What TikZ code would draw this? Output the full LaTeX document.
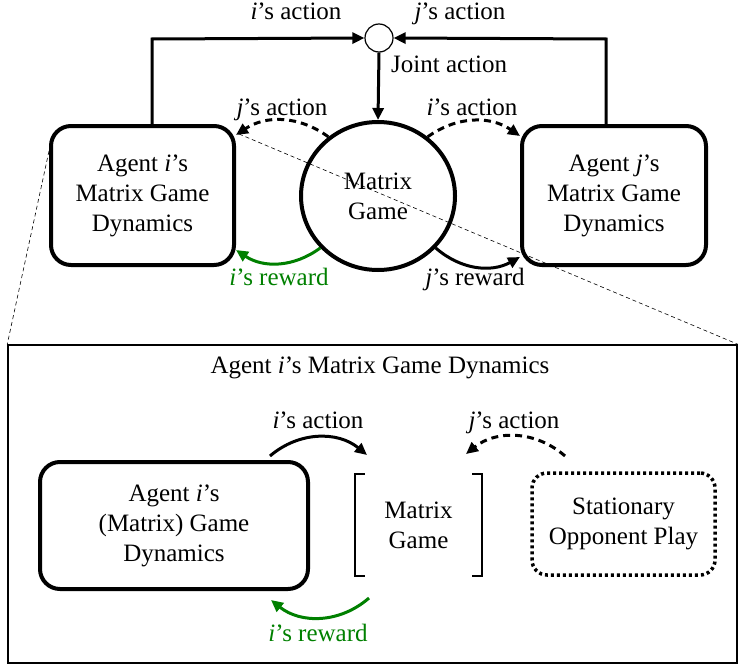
\documentclass[tikz,border=0pt]{standalone}
\usepackage{fontspec}
\setmainfont{Liberation Serif}
\usetikzlibrary{shapes.geometric,arrows.meta,calc}
\definecolor{rgreen}{RGB}{0,128,0}
\tikzset{
  agentbox/.style={draw,line width=4pt,rounded corners=20pt,align=center,inner sep=0pt},
  gamecirc/.style={draw,ellipse,line width=4pt,align=center,inner sep=0pt},
  joincirc/.style={draw,circle,line width=1.2pt,minimum size=28pt,inner sep=0pt},
  flow/.style={line width=3pt,-{Triangle[length=12pt,width=11pt]}},
  dflow/.style={flow,dash pattern=on 7pt off 5pt},
  zoomline/.style={line width=0.6pt,dash pattern=on 4pt off 3pt},
  lbl/.style={anchor=base,inner sep=0pt},
  dotbox/.style={draw,line width=3.5pt,rounded corners=15pt,dash pattern=on 3pt off 3pt,align=center,inner sep=0pt},
}
\begin{document}
\begin{tikzpicture}[x=1pt,y=-1pt,font=\fontsize{25}{30}\selectfont]
\useasboundingbox (0,0) rectangle (738,666);
% top diagram
\node[agentbox,minimum width=183pt,minimum height=139pt] (lb) at (142.5,195.5) {Agent \textit{i}’s\\Matrix Game\\Dynamics};
\node[agentbox,minimum width=184pt,minimum height=139pt] (rb) at (614,195.5) {Agent \textit{j}’s\\Matrix Game\\Dynamics};
\node[gamecirc,minimum width=154pt,minimum height=148pt] (mc) at (378,196) {Matrix\\Game};
\node[joincirc] (sc) at (379,38) {};
\coordinate (tl) at (152,39);
\coordinate (tr) at (606,39);
\draw[flow] (lb.north -| tl) -- (tl) -- (sc.west);
\draw[flow] (rb.north -| tr) -- (tr) -- (sc.east);
\draw[flow] (sc.south) -- (mc.north);
\draw[dflow] (mc.130) to[bend right=35] ([yshift=-11pt]lb.north east);
\draw[dflow] (mc.50) to[bend left=35] ([yshift=-12pt]rb.north west);
\draw[flow,rgreen] (mc.222) to[bend left=35] ([yshift=17pt]lb.south east);
\draw[flow] (mc.318) to[bend right=35] ([yshift=10pt]rb.south west);
\node[lbl] (l1) at (296,20) {\textit{i}’s action};
\node[lbl] (l2) at (460,20) {\textit{j}’s action};
\node[lbl,anchor=base west] (l3) at (391,73) {Joint action};
\node[lbl] (l4) at (282,115) {\textit{j}’s action};
\node[lbl] (l5) at (472,115) {\textit{i}’s action};
\node[lbl,text=rgreen] (l6) at (279,285) {\textit{i}’s reward};
\node[lbl] (l7) at (475,285) {\textit{j}’s reward};
% bottom panel
\node[draw,line width=1.5pt,minimum width=729pt,minimum height=318pt,inner sep=0pt] (bp) at (372.5,504) {};
\draw[zoomline] ([yshift=-27pt]lb.north west) -- (bp.north west);
\draw[zoomline] ([xshift=3pt,yshift=-10pt]lb.north east) -- (bp.north east);
\node[lbl] (title) at (380,373) {Agent \textit{i}’s Matrix Game Dynamics};
\node[agentbox,minimum width=268pt,minimum height=127pt] (lb2) at (174,525.5) {Agent \textit{i}’s\\(Matrix) Game\\Dynamics};
\node[align=center,minimum width=127pt,minimum height=102pt,inner sep=0pt] (mg2) at (418.5,525) {Matrix\\Game};
\draw[line width=2.5pt] ([xshift=10pt]mg2.north west) -- (mg2.north west) -- (mg2.south west) -- ([xshift=10pt]mg2.south west);
\draw[line width=2.5pt] ([xshift=-10pt]mg2.north east) -- (mg2.north east) -- (mg2.south east) -- ([xshift=-10pt]mg2.south east);
\node[dotbox,minimum width=183pt,minimum height=102pt] (sp) at (623.5,524) {Stationary\\Opponent Play};
\coordinate (a1s) at (270,456);
\coordinate (a1e) at (367,455);
\coordinate (a2s) at (565,456);
\coordinate (a2e) at (466,454);
\coordinate (r1s) at (369,598);
\coordinate (r1e) at (271,600);
\draw[flow] (a1s) to[bend left=40] (a1e);
\draw[dflow] (a2s) to[bend right=40] (a2e);
\draw[flow,rgreen] (r1s) to[bend left=40] (r1e);
\node[lbl] (b1) at (318,428) {\textit{i}’s action};
\node[lbl] (b2) at (514,428) {\textit{j}’s action};
\node[lbl,text=rgreen] (b3) at (318,641) {\textit{i}’s reward};
\end{tikzpicture}
\end{document}
